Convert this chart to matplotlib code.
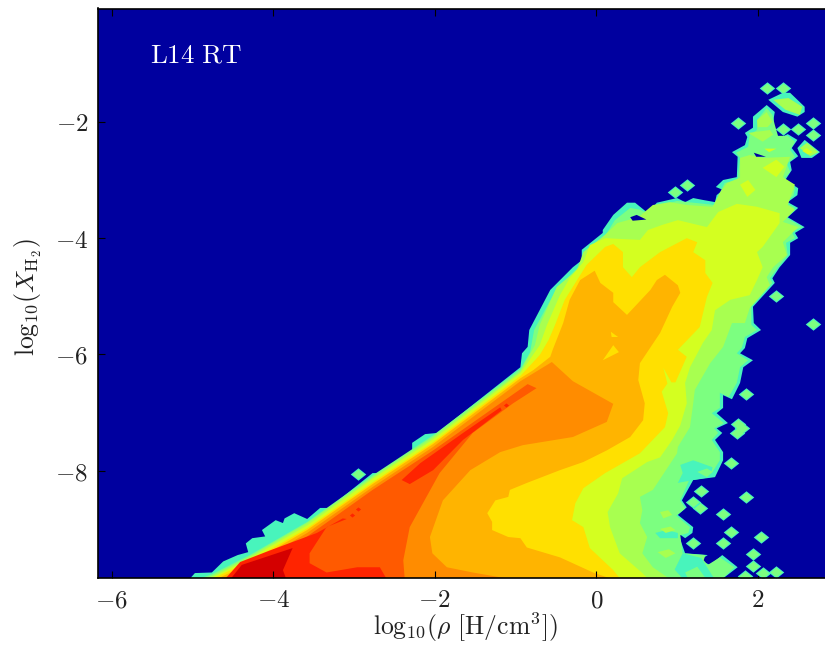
import matplotlib
matplotlib.use("Agg")
import matplotlib.pyplot as plt

plt.rcParams['mathtext.fontset'] = 'cm'

BAND_COLORS = ['#48F4BC', '#7CFF80', '#A8FF50', '#D4FF20', '#FFE000', '#FFB400', '#FF8C00', '#FF5A00', '#FF2400', '#D40000']
BG = '#00009F'

L0 = [(-5.06,-9.90),(-4.97,-9.76),(-4.76,-9.75),(-4.62,-9.56),(-4.44,-9.45),(-4.31,-9.40),(-4.34,-9.25),(-4.26,-9.16),(-4.10,-9.13),(-4.14,-9.02),(-3.97,-8.85),(-3.88,-8.90),(-3.86,-8.82),(-3.74,-8.73),(-3.58,-8.83),(-3.42,-8.64),(-3.31,-8.64),(-2.77,-8.04),(-2.64,-8.04),(-2.28,-7.65),(-2.28,-7.52),(-2.12,-7.37),(-1.97,-7.35),(-0.94,-6.22),(-0.92,-5.98),(-0.85,-5.87),(-0.83,-5.58),(-0.57,-4.89),(-0.29,-4.50),(-0.18,-4.38),(-0.18,-4.20),(0.08,-3.91),(0.08,-3.86),(0.21,-3.60),(0.38,-3.39),(0.48,-3.39),(0.64,-3.57),(0.75,-3.39),(1.00,-3.31),(1.10,-3.38),(1.20,-3.31),(1.31,-3.34),(1.47,-3.38),(1.49,-3.26),(1.57,-3.17),(1.48,-3.12),(1.57,-3.00),(1.74,-2.95),(1.75,-2.60),(1.68,-2.52),(1.84,-2.40),(1.87,-2.26),(1.84,-2.19),(1.94,-2.10),(1.94,-1.91),(2.11,-1.71),(2.21,-1.83),(2.20,-1.91),(2.19,-2.05),(2.21,-2.22),(2.27,-2.28),(2.37,-2.21),(2.49,-2.31),(2.42,-2.45),(2.50,-2.59),(2.40,-2.69),(2.42,-2.83),(2.34,-3.00),(2.50,-3.14),(2.49,-3.26),(2.37,-3.38),(2.50,-3.48),(2.37,-3.64),(2.58,-3.81),(2.46,-3.91),(2.50,-4.00),(2.40,-4.08),(2.40,-4.29),(2.27,-4.50),(2.18,-4.69),(2.21,-4.77),(1.94,-5.18),(1.95,-5.46),(2.04,-5.58),(1.87,-5.72),(1.84,-5.89),(1.78,-5.98),(1.94,-6.10),(1.82,-6.22),(1.78,-6.49),(1.68,-6.77),(1.57,-6.70),(1.57,-6.92),(1.49,-7.01),(1.63,-7.18),(1.49,-7.27),(1.56,-7.35),(1.47,-7.47),(1.57,-7.68),(1.57,-7.82),(1.47,-8.11),(1.20,-8.16),(1.06,-8.51),(1.12,-8.63),(1.01,-8.76),(1.20,-8.97),(1.19,-9.07),(1.10,-9.16),(1.01,-9.07),(1.10,-9.42),(1.38,-9.45),(1.28,-9.54),(1.41,-9.62),(1.56,-9.45),(1.75,-9.66),(1.59,-9.83),(1.49,-9.90)]
L1 = [(-5.00,-9.90),(-4.76,-9.78),(-4.29,-9.45),(-3.58,-8.88),(-2.77,-8.08),(-2.02,-7.39),(-0.94,-6.25),(-0.82,-5.96),(-0.77,-5.58),(-0.50,-4.89),(-0.24,-4.52),(-0.13,-4.34),(-0.13,-4.20),(0.11,-3.96),(0.23,-3.69),(0.42,-3.48),(0.54,-3.51),(0.67,-3.60),(0.76,-3.45),(1.00,-3.36),(1.47,-3.43),(1.53,-3.22),(1.59,-3.05),(1.75,-3.00),(1.78,-2.62),(1.73,-2.53),(1.88,-2.43),(1.90,-2.22),(1.99,-2.14),(1.99,-1.97),(2.11,-1.76),(2.18,-1.88),(2.21,-2.05),(2.25,-2.24),(2.37,-2.24),(2.46,-2.34),(2.40,-2.48),(2.46,-2.60),(2.36,-2.72),(2.40,-2.86),(2.31,-3.00),(2.46,-3.14),(2.44,-3.27),(2.34,-3.39),(2.46,-3.48),(2.34,-3.64),(2.55,-3.81),(2.42,-3.89),(2.46,-4.00),(2.35,-4.08),(2.37,-4.29),(2.25,-4.50),(2.15,-4.69),(2.18,-4.77),(1.92,-5.18),(1.92,-5.49),(1.99,-5.58),(1.84,-5.70),(1.80,-5.89),(1.74,-5.98),(1.88,-6.10),(1.78,-6.22),(1.74,-6.49),(1.64,-6.73),(1.53,-6.66),(1.53,-6.92),(1.43,-7.01),(1.58,-7.18),(1.46,-7.27),(1.51,-7.35),(1.43,-7.47),(1.53,-7.68),(1.53,-7.82),(1.43,-8.04),(1.16,-8.13),(1.04,-8.51),(1.10,-8.65),(0.99,-8.77),(1.16,-8.97),(1.14,-9.07),(1.04,-9.11),(1.07,-9.42),(1.35,-9.45),(1.33,-9.54),(1.38,-9.62),(1.53,-9.49),(1.71,-9.66),(1.53,-9.90)]
L2 = [(-4.96,-9.90),(-4.76,-9.81),(-4.31,-9.49),(-3.58,-8.90),(-2.77,-8.11),(-2.02,-7.42),(-0.94,-6.29),(-0.76,-5.84),(-0.70,-5.49),(-0.49,-4.84),(-0.24,-4.55),(-0.16,-4.24),(0.11,-3.94),(0.26,-3.74),(0.52,-3.64),(0.70,-3.43),(0.91,-3.38),(1.12,-3.43),(1.44,-3.46),(1.53,-3.22),(1.62,-3.05),(1.78,-2.96),(1.78,-2.62),(1.90,-2.57),(2.06,-2.62),(2.40,-2.60),(2.31,-2.95),(2.46,-3.08),(2.37,-3.43),(2.46,-3.51),(2.31,-3.72),(2.50,-3.81),(2.31,-4.07),(2.36,-4.29),(2.19,-4.50),(2.11,-4.67),(2.15,-4.81),(1.90,-5.20),(1.84,-5.46),(1.68,-5.46),(1.57,-5.87),(1.41,-6.15),(1.22,-6.61),(1.20,-6.84),(1.16,-7.25),(1.01,-7.59),(1.00,-7.70),(0.70,-8.33),(0.54,-8.45),(0.57,-8.68),(0.54,-8.90),(0.63,-9.14),(0.57,-9.42),(0.70,-9.66),(0.95,-9.90)]
L3 = [(-4.91,-9.90),(-4.76,-9.84),(-4.31,-9.52),(-3.58,-8.94),(-2.77,-8.14),(-2.02,-7.46),(-0.94,-6.32),(-0.70,-5.84),(-0.61,-5.49),(-0.45,-4.98),(-0.33,-4.69),(-0.16,-4.41),(-0.08,-4.12),(0.11,-4.00),(0.54,-4.03),(0.64,-3.86),(0.82,-3.77),(1.01,-3.69),(1.37,-3.81),(1.51,-3.55),(1.74,-3.41),(1.99,-3.46),(2.27,-3.57),(2.27,-3.74),(2.06,-4.15),(1.99,-4.24),(2.06,-4.50),(1.99,-4.72),(1.90,-4.98),(1.66,-5.06),(1.47,-5.24),(1.43,-5.58),(1.32,-5.80),(1.16,-6.22),(1.10,-6.49),(1.12,-6.84),(1.04,-7.22),(0.94,-7.47),(0.79,-7.77),(0.63,-7.85),(0.32,-8.13),(0.27,-8.39),(0.14,-8.71),(0.17,-8.97),(0.29,-9.42),(0.57,-9.76),(0.67,-9.90)]
L4 = [(-4.85,-9.90),(-4.76,-9.86),(-4.31,-9.57),(-3.58,-8.99),(-2.77,-8.20),(-2.02,-7.51),(-0.94,-6.37),(-0.70,-6.01),(-0.59,-5.75),(-0.51,-5.49),(-0.39,-5.06),(-0.26,-4.77),(-0.12,-4.46),(0.11,-4.15),(0.21,-4.10),(0.33,-4.24),(0.33,-4.50),(0.44,-4.67),(0.54,-4.50),(0.79,-4.24),(1.12,-4.00),(1.25,-4.07),(1.20,-4.24),(1.35,-4.38),(1.35,-4.60),(1.44,-4.77),(1.37,-5.01),(1.28,-5.53),(1.01,-5.92),(1.12,-6.04),(0.98,-6.48),(0.93,-6.48),(0.83,-6.23),(0.88,-6.50),(0.81,-6.64),(0.89,-7.01),(0.85,-7.25),(0.54,-7.70),(0.11,-8.04),(-0.16,-8.30),(-0.26,-8.56),(-0.30,-8.85),(-0.16,-8.97),(-0.08,-9.33),(0.21,-9.71),(0.32,-9.90)]
L5 = [(-4.76,-9.90),(-4.31,-9.61),(-3.58,-9.02),(-2.77,-8.23),(-2.02,-7.54),(-0.94,-6.41),(-0.78,-6.27),(-0.57,-6.04),(-0.54,-5.92),(-0.41,-5.46),(-0.33,-5.06),(-0.20,-4.72),(-0.02,-4.56),(0.05,-4.77),(0.21,-4.94),(0.21,-5.10),(0.38,-5.32),(0.67,-4.89),(0.75,-4.72),(0.85,-4.63),(1.01,-4.81),(1.04,-4.94),(0.94,-5.18),(0.79,-5.63),(0.54,-6.15),(0.52,-6.44),(0.60,-6.84),(0.58,-7.13),(0.42,-7.42),(0.13,-7.65),(-0.16,-7.85),(-0.45,-7.99),(-0.86,-8.21),(-1.07,-8.33),(-1.09,-8.45),(-1.25,-8.51),(-1.35,-8.73),(-1.29,-8.88),(-1.29,-9.02),(-1.09,-9.14),(-0.94,-9.16),(-0.86,-9.32),(-0.45,-9.49),(-0.04,-9.75),(0.27,-9.90)]
L6 = [(-4.71,-9.90),(-4.31,-9.66),(-3.58,-9.07),(-2.77,-8.28),(-2.02,-7.59),(-0.94,-6.46),(-0.55,-6.13),(-0.29,-6.46),(0.21,-6.85),(0.13,-7.16),(-0.29,-7.42),(-0.91,-7.56),(-1.19,-7.68),(-1.56,-7.99),(-1.90,-8.51),(-2.06,-9.14),(-2.03,-9.42),(-1.85,-9.66),(-1.53,-9.75),(-0.91,-9.90)]
L7 = [(-4.66,-9.90),(-4.31,-9.71),(-3.58,-9.13),(-2.77,-8.33),(-2.02,-7.65),(-0.85,-6.51),(-0.74,-6.58),(-1.03,-6.84),(-1.53,-7.35),(-1.94,-8.04),(-2.31,-8.97),(-2.39,-9.54),(-2.37,-9.90)]
L8 = [(-4.62,-9.90),(-4.41,-9.57),(-4.04,-9.37),(-3.46,-9.07),(-3.14,-8.82),(-3.09,-8.83),(-3.34,-8.97),(-3.55,-9.42),(-3.55,-9.59),(-3.34,-9.75),(-2.96,-9.66),(-2.68,-9.66),(-2.58,-9.90)]
L8_STREAK = [(-2.41,-8.16),(-2.31,-8.23),(-2.02,-7.99),(-1.65,-7.47),(-1.17,-6.96),(-1.19,-6.91),(-1.65,-7.35),(-2.18,-7.87)]
L9 = [(-4.55,-9.90),(-4.39,-9.62),(-3.76,-9.33),(-3.88,-9.71),(-3.83,-9.90)]

BLOBS_L0 = [[(2.13,-1.62),(2.31,-1.50),(2.40,-1.50),(2.58,-1.74),(2.58,-1.83),(2.49,-1.91),(2.31,-1.83)],
            [(2.58,-2.31),(2.77,-2.52),(2.67,-2.62),(2.54,-2.62),(2.49,-2.45)]]
PATCHES_L0 = [[(1.04,-7.90),(1.20,-7.82),(1.44,-7.94),(1.41,-8.11),(1.20,-8.16),(1.01,-8.21),(1.07,-8.04)],
              [(0.73,-9.07),(0.87,-9.02),(1.01,-9.07),(1.01,-9.16),(0.79,-9.16)],
              [(1.07,-9.42),(1.30,-9.50),(1.48,-9.90),(1.10,-9.90),(0.97,-9.70)]]
PATCHES_L1 = [[(1.25,-8.02),(1.37,-7.96),(1.44,-8.02),(1.37,-8.11)],
              [(1.10,-9.75),(1.25,-9.65),(1.38,-9.90),(1.15,-9.90)]]
PATCHES_L2 = [[(0.79,-8.71),(0.89,-8.68),(0.94,-8.76),(0.83,-8.82)],
              [(0.79,-9.00),(0.92,-8.96),(0.98,-9.02),(0.86,-9.07)],
              [(0.76,-9.40),(0.90,-9.35),(0.98,-9.42),(0.86,-9.50)]]
BLOBS_L2 = [[(2.19,-1.62),(2.38,-1.59),(2.55,-1.74),(2.52,-1.88),(2.34,-1.79)],
            [(2.52,-2.45),(2.61,-2.36),(2.75,-2.52),(2.65,-2.59)],
            [(1.99,-1.97),(2.11,-1.83),(2.18,-2.00),(2.12,-2.09),(2.00,-2.09)],
            [(1.88,-2.19),(2.15,-2.14),(2.19,-2.22),(2.06,-2.34)]]
BLOBS_L3 = [[(2.06,-2.79),(2.23,-2.65),(2.33,-2.77),(2.23,-2.95)],
            [(1.78,-3.08),(1.88,-3.00),(1.97,-3.17),(1.87,-3.29)],
            [(2.08,-2.46),(2.23,-2.46),(2.14,-2.52)],
            [(2.55,-2.50),(2.60,-2.45),(2.68,-2.52),(2.62,-2.56)]]
SPECKS_L4 = [[(0.08,-6.10),(0.21,-5.84),(0.28,-5.96)], [(0.18,-5.61),(0.27,-5.70),(0.19,-5.70)]]
HOLES = [[(0.42,-3.64),(0.50,-3.60),(0.62,-3.68),(0.45,-3.70)], [(1.95,-2.53),(2.10,-2.60),(1.98,-2.60)]]

DIAMOND_X = [1.75, 2.31, 2.50, 2.68, 2.68, 2.11, 2.31, 0.97, 1.12, 2.22, 2.68, 1.85, 1.75, 1.80, 1.74, 1.67, 1.30, 1.85, 1.20, 1.28, 1.57, 1.67, 2.04, 1.57, 1.20, 1.94, 1.94, 2.06, 2.23, 1.84, -2.95]
DIAMOND_Y = [-2.02, -2.12, -2.12, -2.02, -2.22, -1.41, -1.41, -3.20, -3.08, -5.00, -5.48, -6.68, -7.20, -7.27, -7.35, -7.87, -8.35, -8.45, -8.54, -8.64, -8.75, -9.06, -9.14, -9.25, -9.25, -9.44, -9.64, -9.76, -9.75, -9.81, -8.06]
DOT_X = [-3.03, -2.95, -1.12]
DOT_Y = [-8.76, -8.66, -6.87]

XTICKS = [-6, -4, -2, 0, 2]
YTICKS = [-2, -4, -6, -8]

fig = plt.figure(figsize=(8.25, 6.45), dpi=100)
ax = fig.add_axes([98/825, 1-578.3/645, 743/825, (578.3-8.5)/645])
ax.set_facecolor(BG)
ax.set_xlim(-6.17, 3.03)
ax.set_ylim(-9.85, -0.05)

def poly(pts, color):
    ax.fill([p[0] for p in pts], [p[1] for p in pts], color=color, lw=0)

rhomb = [(-1, 0), (0, 0.8), (1, 0), (0, -0.8)]
poly(L0, BAND_COLORS[0])
for b in BLOBS_L0:
    poly(b, BAND_COLORS[0])
ax.scatter(DIAMOND_X, DIAMOND_Y, s=125, marker=rhomb, color=BAND_COLORS[0], linewidths=0, zorder=2)
ax.scatter(DIAMOND_X, DIAMOND_Y, s=75, marker=rhomb, color=BAND_COLORS[1], linewidths=0, zorder=2)
poly(L1, BAND_COLORS[1])
for p in PATCHES_L0:
    poly(p, BAND_COLORS[0])
for p in PATCHES_L1:
    poly(p, BAND_COLORS[1])
for p in PATCHES_L2:
    poly(p, BAND_COLORS[2])
poly(L2, BAND_COLORS[2])
for b in BLOBS_L2:
    poly(b, BAND_COLORS[2])
for h in HOLES:
    poly(h, BG)
poly(L3, BAND_COLORS[3])
for b in BLOBS_L3:
    poly(b, BAND_COLORS[3])
poly(L4, BAND_COLORS[4])
poly(L5, BAND_COLORS[5])
for s_ in SPECKS_L4:
    poly(s_, BAND_COLORS[4])
poly(L6, BAND_COLORS[6])
poly(L7, BAND_COLORS[7])
poly(L8, BAND_COLORS[8])
poly(L8_STREAK, BAND_COLORS[8])
ax.scatter(DOT_X, DOT_Y, s=14, marker=rhomb, color=BAND_COLORS[8], linewidths=0, zorder=2)
poly(L9, BAND_COLORS[9])

ax.set_xticks(XTICKS)
ax.set_yticks(YTICKS)
ax.set_xticklabels(['$%d$' % v for v in XTICKS])
ax.set_yticklabels(['$%d$' % v for v in YTICKS])
ax.tick_params(direction='in', top=True, right=True, length=5, width=0.8, labelsize=18, pad=7, color='black', labelcolor='#222222')
for sp in ax.spines.values():
    sp.set_linewidth(1.2)
    sp.set_zorder(10)

ax.text(-4.96, -0.85, r'$\mathrm{L14\ RT}$', color='white', fontsize=19.5, ha='center', va='center')
fig.text(465/825, 1-627/645, r'$\mathrm{log}_{10}(\rho\ [\mathrm{H/cm}^3])$', fontsize=18.5, ha='center', va='center', color='#222222')
fig.text(28/825, 1-297/645, r'$\mathrm{log}_{10}(X_{\mathrm{H}_2})$', fontsize=18.5, rotation=90, ha='center', va='center', color='#222222')

fig.savefig('out.png', dpi=100)
